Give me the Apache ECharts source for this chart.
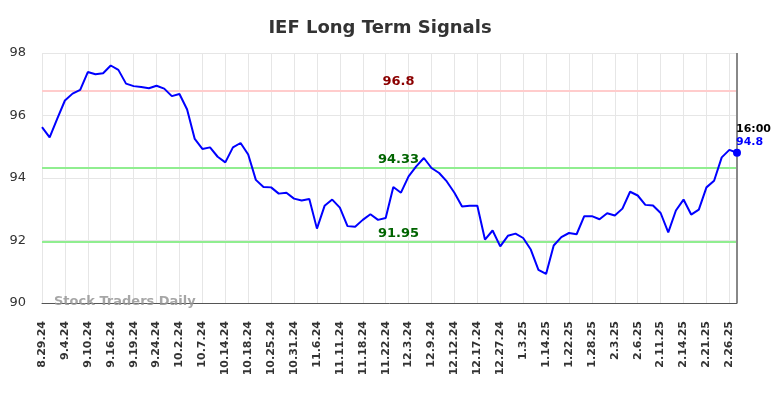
<!DOCTYPE html>
<html>
<head>
<meta charset="utf-8">
<script src="https://cdn.jsdelivr.net/npm/echarts@6/dist/echarts.min.js"></script>
<style>html,body{margin:0;padding:0;background:#fff}#c{width:784px;height:398px}</style>
</head>
<body>
<div id="c"></div>
<script>
var dates = ['8.29.24','8.30.24','9.3.24','9.4.24','9.5.24','9.6.24','9.10.24','9.11.24','9.12.24','9.16.24','9.17.24','9.18.24','9.19.24','9.20.24','9.23.24','9.24.24','9.26.24','9.30.24','10.2.24','10.3.24','10.4.24','10.7.24','10.9.24','10.11.24','10.14.24','10.15.24','10.16.24','10.18.24','10.21.24','10.23.24','10.25.24','10.28.24','10.29.24','10.31.24','11.1.24','11.4.24','11.6.24','11.7.24','11.8.24','11.11.24','11.13.24','11.15.24','11.18.24','11.19.24','11.20.24','11.22.24','11.25.24','11.27.24','12.3.24','12.4.24','12.6.24','12.9.24','12.10.24','12.11.24','12.12.24','12.13.24','12.16.24','12.17.24','12.19.24','12.23.24','12.27.24','12.30.24','12.31.24','1.3.25','1.6.25','1.8.25','1.14.25','1.15.25','1.17.25','1.22.25','1.23.25','1.27.25','1.28.25','1.29.25','1.31.25','2.3.25','2.4.25','2.5.25','2.6.25','2.7.25','2.10.25','2.11.25','2.12.25','2.13.25','2.14.25','2.18.25','2.20.25','2.21.25','2.24.25','2.25.25','2.26.25','2.27.25'];
var prices = [95.63,95.30,95.90,96.48,96.70,96.82,97.39,97.32,97.35,97.60,97.46,97.02,96.94,96.91,96.87,96.95,96.86,96.62,96.69,96.19,95.25,94.93,94.98,94.68,94.50,94.98,95.12,94.75,93.94,93.71,93.70,93.50,93.53,93.34,93.28,93.33,92.38,93.11,93.31,93.05,92.46,92.44,92.66,92.84,92.66,92.72,93.71,93.53,94.05,94.37,94.64,94.32,94.16,93.89,93.53,93.09,93.11,93.11,92.03,92.32,91.81,92.15,92.22,92.08,91.71,91.06,90.93,91.84,92.11,92.24,92.20,92.78,92.78,92.68,92.87,92.80,93.02,93.56,93.44,93.14,93.12,92.88,92.26,92.96,93.31,92.83,92.99,93.70,93.91,94.66,94.90,94.81];
var resistance = [96.8];
var supports = [94.33, 91.95];
var yTicks = [90, 92, 94, 96, 98];
var lastTime = '16:00';
var lastLabel = '94.8';

var chart = echarts.init(document.getElementById('c'));
var font = 'DejaVu Sans';
var lastIdx = prices.length - 1;
var seriesData = prices.map(function (v, i) {
  if (i === lastIdx) {
    return {
      value: v,
      symbol: 'circle',
      symbolSize: 8,
      itemStyle: { color: '#0000ff' },
      label: {
        show: true,
        position: [3, -26],
        align: 'left',
        verticalAlign: 'top',
        formatter: '{a|' + lastTime + '}\n{b|' + lastLabel + '}',
        rich: {
          a: { color: '#000', fontWeight: 'bold', fontSize: 11, fontFamily: font, lineHeight: 13 },
          b: { color: '#0000ff', fontWeight: 'bold', fontSize: 11, fontFamily: font, lineHeight: 13 }
        }
      }
    };
  }
  return { value: v, symbol: 'none' };
});

function hLine(val, color, textColor) {
  return {
    yAxis: val,
    lineStyle: { color: color, width: 2, type: 'solid' },
    label: {
      show: true,
      position: 'insideMiddleTop',
      formatter: String(val),
      color: textColor,
      fontWeight: 'bold',
      fontSize: 13,
      fontFamily: font,
      offset: [9, 0],
      distance: 2
    }
  };
}

chart.setOption({
  animation: false,
  title: {
    text: 'IEF Long Term Signals',
    left: 375,
    textAlign: 'center',
    top: 14,
    textStyle: { fontFamily: font, fontSize: 18, fontWeight: 'bold', color: '#333' }
  },
  grid: { left: 42, right: 47, top: 53, bottom: 95 },
  xAxis: {
    type: 'category',
    data: dates,
    boundaryGap: false,
    axisLine: { lineStyle: { color: '#555', width: 1 } },
    axisTick: { show: false },
    axisLabel: {
      interval: 2,
      rotate: 90,
      margin: 18,
      fontFamily: font,
      fontSize: 11,
      fontWeight: 'bold',
      color: '#333'
    },
    splitLine: { show: true, interval: 2, lineStyle: { color: '#e6e6e6', width: 1 } }
  },
  yAxis: {
    type: 'value',
    min: yTicks[0],
    max: yTicks[yTicks.length - 1],
    interval: 2,
    axisLine: { show: false },
    axisTick: { show: false },
    axisLabel: { fontFamily: font, fontSize: 13, color: '#333', margin: 16 },
    splitLine: { lineStyle: { color: '#e6e6e6', width: 1 } }
  },
  graphic: [{
    type: 'text',
    left: 54,
    top: 295,
    z: 10,
    style: { text: 'Stock Traders Daily', fill: 'rgba(150,150,150,0.85)', font: 'bold 13px "DejaVu Sans"' }
  }],
  series: [{
    type: 'line',
    data: seriesData,
    showSymbol: true,
    showAllSymbol: true,
    clip: false,
    lineStyle: { color: '#0000ff', width: 2 },
    itemStyle: { color: '#0000ff' },
    z: 5,
    markLine: {
      silent: true,
      symbol: 'none',
      animation: false,
      z: 3,
      data: [
        hLine(resistance[0], '#ffcccc', '#8b0000'),
        hLine(supports[0], '#90ee90', '#006400'),
        hLine(supports[1], '#90ee90', '#006400'),
        {
          xAxis: lastIdx,
          lineStyle: { color: '#888', width: 2, type: 'solid' },
          label: { show: false }
        }
      ]
    }
  }]
});
</script>
</body>
</html>
